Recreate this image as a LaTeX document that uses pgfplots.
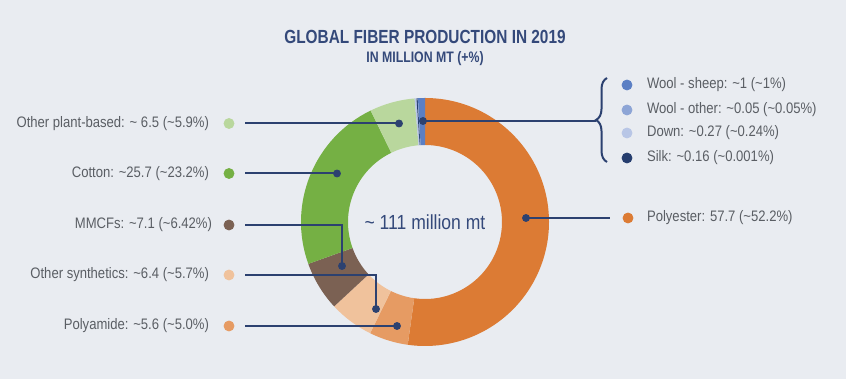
\documentclass[border=0pt]{standalone}
\usepackage{pgfplots}
\pgfplotsset{compat=1.18}
\usepackage{fontspec}
\setmainfont{Liberation Sans}[FakeStretch=0.86]
\newfontfamily\titlefont{Liberation Sans}[FakeStretch=0.81,BoldFont={Liberation Sans Bold}]
\usetikzlibrary{decorations.pathreplacing}
\definecolor{bg}{HTML}{E9ECF1}
\definecolor{navy}{HTML}{2C4170}
\definecolor{tnavy}{HTML}{34497A}
\definecolor{txt}{HTML}{5A5E64}
\definecolor{cPoly}{HTML}{DC7B34}
\definecolor{cPA}{HTML}{E69B63}
\definecolor{cOS}{HTML}{F0C29C}
\definecolor{cMM}{HTML}{7B6153}
\definecolor{cCot}{HTML}{75B044}
\definecolor{cOP}{HTML}{B9D79D}
\definecolor{cWS}{HTML}{5B7FC4}
\definecolor{cWO}{HTML}{8DA5D6}
\definecolor{cDown}{HTML}{B8C6E6}
\definecolor{cSilk}{HTML}{253D6E}
% values (million mt)
\def\vPoly{57.7}\def\vPA{5.6}\def\vOS{6.4}\def\vMM{7.1}\def\vCot{25.7}
\def\vOP{6.5}\def\vSilk{0.16}\def\vDown{0.27}\def\vWO{0.05}\def\vWS{1}
\newcommand\slice[3]{\fill[#3] (axis cs:425,157) ++(#1:62pt) arc[start angle=#1,end angle=#2,radius=62pt] -- ++(#2:-23.5pt) arc[start angle=#2,end angle=#1,radius=38.5pt] -- cycle;}
\begin{document}
\begin{tikzpicture}
\pgfmathsetmacro\tot{\vPoly+\vPA+\vOS+\vMM+\vCot+\vOP+\vSilk+\vDown+\vWO+\vWS}
\pgfmathsetmacro\aA{90}
\pgfmathsetmacro\aB{\aA-360*(\vPoly/\tot)}
\pgfmathsetmacro\aC{\aB-360*(\vPA/\tot)}
\pgfmathsetmacro\aD{\aC-360*(\vOS/\tot)}
\pgfmathsetmacro\aE{\aD-360*(\vMM/\tot)}
\pgfmathsetmacro\aF{\aE-360*(\vCot/\tot)}
\pgfmathsetmacro\aG{\aF-360*(\vOP/\tot)}
\pgfmathsetmacro\aH{\aG-360*(\vDown/\tot)}
\pgfmathsetmacro\aI{\aH-360*(\vSilk/\tot)}
\pgfmathsetmacro\aJ{\aI-360*(\vWO/\tot)}
\pgfmathsetmacro\aK{-270}
\begin{axis}[x=0.5pt,y=0.5pt,xmin=0,xmax=846,ymin=0,ymax=379,hide axis,clip=false,
  every node/.append style={inner sep=0pt,outer sep=0pt}]
\fill[bg] (axis cs:0,0) rectangle (axis cs:846,379);
\slice{\aA}{\aB}{cPoly}
\slice{\aB}{\aC}{cPA}
\slice{\aC}{\aD}{cOS}
\slice{\aD}{\aE}{cMM}
\slice{\aE}{\aF}{cCot}
\slice{\aF}{\aG}{cOP}
\slice{\aG}{\aH}{cDown}
\slice{\aH}{\aI}{cSilk}
\slice{\aI}{\aJ}{cWO}
\slice{\aJ}{\aK}{cWS}
% leader lines
\addplot[navy,line width=1pt,mark=none] coordinates {(245,255.5) (399,255.5)};
\addplot[navy,line width=1pt,mark=none] coordinates {(245,205.5) (337,205.5)};
\addplot[navy,line width=1pt,mark=none] coordinates {(245,154) (342,154) (342,113)};
\addplot[navy,line width=1pt,mark=none] coordinates {(245,104) (376,104) (376,70)};
\addplot[navy,line width=1pt,mark=none] coordinates {(245,53) (397,53)};
\addplot[navy,line width=1pt,mark=none] coordinates {(423,258) (596,258)};
\addplot[navy,line width=1pt,mark=none] coordinates {(526,161) (610,161)};
\addplot[navy,only marks,mark=*,mark size=1.75pt] coordinates {(399,255.5) (337,205.5) (342,113) (376,70) (397,53) (423,258) (526,161)};
% legend dots
\addplot[cOP,only marks,mark=*,mark size=2.5pt] coordinates {(229,255.5)};
\addplot[cCot,only marks,mark=*,mark size=2.5pt] coordinates {(229,205.5)};
\addplot[cMM,only marks,mark=*,mark size=2.5pt] coordinates {(229,154)};
\addplot[cOS,only marks,mark=*,mark size=2.5pt] coordinates {(229,104)};
\addplot[cPA,only marks,mark=*,mark size=2.5pt] coordinates {(229,53)};
\addplot[cWS,only marks,mark=*,mark size=2.5pt] coordinates {(627,294)};
\addplot[cWO,only marks,mark=*,mark size=2.5pt] coordinates {(627,269)};
\addplot[cDown,only marks,mark=*,mark size=2.5pt] coordinates {(627,246)};
\addplot[cSilk,only marks,mark=*,mark size=2.5pt] coordinates {(627,221)};
\addplot[cPoly,only marks,mark=*,mark size=2.5pt] coordinates {(628,161)};
% brace
\draw[navy,line width=1pt,decorate,decoration={brace,amplitude=5.5pt}] (axis cs:607,217) -- (axis cs:607,301);
% texts
\node[tnavy,font=\titlefont\bfseries\fontsize{9.5}{11}\selectfont] at (axis cs:425,342) {GLOBAL FIBER PRODUCTION IN 2019};
\node[tnavy,font=\titlefont\bfseries\fontsize{7.6}{9}\selectfont] at (axis cs:425,320) {IN MILLION MT (+\%)};
\node[tnavy,font=\fontsize{10.2}{12}\selectfont] at (axis cs:425,157) {\textasciitilde\ 111 million mt};
\begin{scope}[every node/.style={txt,font=\fontsize{7.6}{9}\selectfont,anchor=east}]
\node at (axis cs:216,255.5) {Other plant-based: \textasciitilde\ 6.5 (\textasciitilde5.9\%)};
\node at (axis cs:216,205.5) {Cotton: \textasciitilde25.7 (\textasciitilde23.2\%)};
\node at (axis cs:219,154) {MMCFs: \textasciitilde7.1 (\textasciitilde6.42\%)};
\node at (axis cs:216,104) {Other synthetics: \textasciitilde6.4 (\textasciitilde5.7\%)};
\node at (axis cs:216,53) {Polyamide: \textasciitilde5.6 (\textasciitilde5.0\%)};
\end{scope}
\begin{scope}[every node/.style={txt,font=\fontsize{7.6}{9}\selectfont,anchor=west}]
\node at (axis cs:640,294) {Wool - sheep: \textasciitilde1 (\textasciitilde1\%)};
\node at (axis cs:640,269) {Wool - other: \textasciitilde0.05 (\textasciitilde0.05\%)};
\node at (axis cs:640,246) {Down: \textasciitilde0.27 (\textasciitilde0.24\%)};
\node at (axis cs:640,221) {Silk: \textasciitilde0.16 (\textasciitilde0.001\%)};
\node at (axis cs:640,161) {Polyester: 57.7 (\textasciitilde52.2\%)};
\end{scope}
\end{axis}
\end{tikzpicture}
\end{document}
